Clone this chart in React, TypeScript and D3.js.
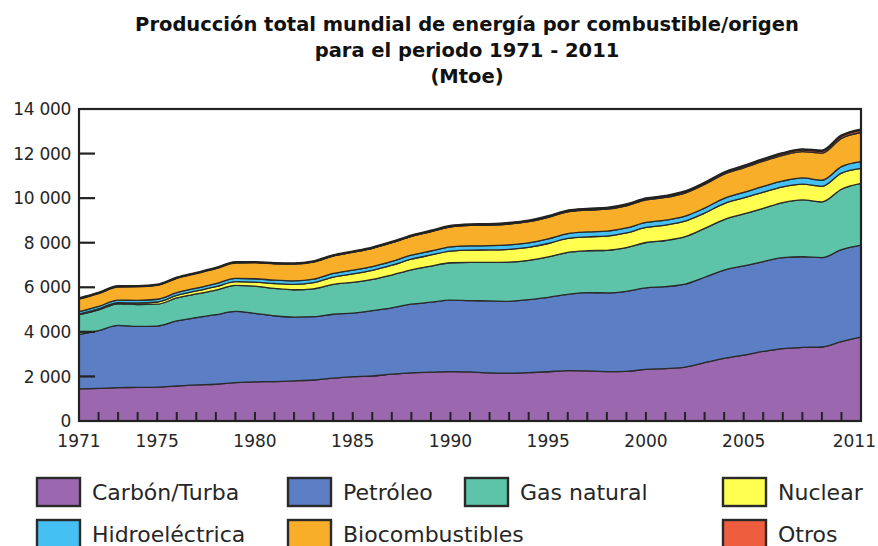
import React from 'react';
import * as d3 from 'd3';

// years 1971..2011
const years = [
  1971, 1972, 1973, 1974, 1975, 1976, 1977, 1978, 1979, 1980,
  1981, 1982, 1983, 1984, 1985, 1986, 1987, 1988, 1989, 1990,
  1991, 1992, 1993, 1994, 1995, 1996, 1997, 1998, 1999, 2000,
  2001, 2002, 2003, 2004, 2005, 2006, 2007, 2008, 2009, 2010, 2011,
];

const carbon = [
  1440, 1460, 1500, 1505, 1520, 1570, 1620, 1650, 1720, 1760,
  1770, 1800, 1840, 1920, 1990, 2020, 2100, 2160, 2190, 2220,
  2200, 2160, 2150, 2170, 2210, 2260, 2250, 2220, 2230, 2320,
  2350, 2420, 2620, 2810, 2960, 3120, 3250, 3300, 3320, 3560, 3760,
];
const petroleo = [
  2440, 2600, 2790, 2740, 2740, 2920, 3020, 3120, 3200, 3070,
  2950, 2860, 2840, 2870, 2850, 2930, 2980, 3080, 3140, 3200,
  3200, 3230, 3220, 3280, 3340, 3420, 3510, 3530, 3590, 3650,
  3680, 3720, 3830, 3960, 4000, 4030, 4080, 4070, 4010, 4130, 4130,
];
const gas = [
  890, 930, 970, 980, 980, 1030, 1060, 1100, 1170, 1220,
  1230, 1230, 1250, 1340, 1380, 1400, 1470, 1540, 1620, 1680,
  1720, 1730, 1760, 1760, 1810, 1890, 1880, 1910, 1960, 2040,
  2070, 2130, 2190, 2270, 2330, 2390, 2470, 2550, 2500, 2710, 2770,
];
const nuclear = [
  30, 40, 53, 70, 100, 115, 135, 155, 165, 186,
  220, 245, 275, 325, 380, 410, 440, 480, 500, 525,
  550, 555, 575, 585, 605, 625, 625, 640, 660, 675,
  690, 695, 690, 715, 720, 730, 710, 710, 700, 720, 675,
];
const hidro = [
  104, 108, 110, 120, 123, 125, 128, 137, 142, 148,
  150, 154, 160, 165, 168, 171, 174, 178, 178, 184,
  190, 190, 200, 202, 212, 215, 219, 220, 222, 225,
  222, 225, 226, 238, 250, 258, 260, 275, 280, 295, 300,
];
const bio = [
  585, 600, 610, 625, 640, 655, 670, 690, 710, 730,
  745, 760, 775, 790, 805, 820, 835, 850, 870, 900,
  915, 925, 935, 945, 960, 975, 980, 985, 995, 1010,
  1020, 1040, 1060, 1080, 1100, 1130, 1150, 1180, 1210, 1270, 1310,
];
const otros = [
  6, 6, 6, 7, 7, 8, 9, 10, 11, 12,
  14, 16, 18, 21, 24, 26, 28, 30, 33, 36,
  38, 40, 42, 44, 46, 48, 50, 52, 55, 58,
  60, 64, 68, 73, 78, 84, 90, 100, 108, 118, 127,
];

const seriesKeys = ['carbon', 'petroleo', 'gas', 'nuclear', 'hidro', 'bio', 'otros'];
const seriesLabels = ['Carbón/Turba', 'Petróleo', 'Gas natural', 'Nuclear', 'Hidroeléctrica', 'Biocombustibles', 'Otros'];
const seriesColors = ['#9b68b0', '#5b7ec5', '#5ec4a9', '#ffff50', '#45c0f2', '#f8ae28', '#ee5d3e'];

const yTicks = [0, 2000, 4000, 6000, 8000, 10000, 12000, 14000];
const xLabelYears = [1971, 1975, 1980, 1985, 1990, 1995, 2000, 2005, 2011];

const titleLines = [
  'Producción total mundial de energía por combustible/origen',
  'para el periodo 1971 - 2011',
  '(Mtoe)',
];

const fmt = d3.formatLocale({ decimal: ',', thousands: ' ', grouping: [3], currency: ['', ''] }).format(',d');

export default function App() {
  const width = 878;
  const height = 546;
  const margin = { top: 109, right: 17, bottom: 125, left: 79 };
  const innerW = width - margin.left - margin.right;
  const innerH = height - margin.top - margin.bottom;

  const table = years.map((year, i) => ({
    year,
    carbon: carbon[i],
    petroleo: petroleo[i],
    gas: gas[i],
    nuclear: nuclear[i],
    hidro: hidro[i],
    bio: bio[i],
    otros: otros[i],
  }));

  const x = d3.scaleLinear().domain([1971, 2011]).range([margin.left, margin.left + innerW]);
  const y = d3.scaleLinear().domain([0, 14000]).range([margin.top + innerH, margin.top]);

  const stacked = d3.stack().keys(seriesKeys)(table as any);

  const area = d3.area<any>()
    .x((d) => x(d.data.year))
    .y0((d) => y(d[0]))
    .y1((d) => y(d[1]))
    .curve(d3.curveMonotoneX);

  const topLine = d3.line<any>()
    .x((d) => x(d.data.year))
    .y((d) => y(d[1]))
    .curve(d3.curveMonotoneX);

  const font = '"DejaVu Sans", "Liberation Sans", sans-serif';
  const ink = '#262626';

  // legend layout: 4 columns, 2 rows
  const legendCols = [37, 288, 465, 723];
  const legendRows = [478, 520];
  const legendPos = [
    [0, 0], [1, 0], [2, 0], [3, 0],
    [0, 1], [1, 1], [3, 1],
  ];

  return (
    <svg width={width} height={height} style={{ position: 'absolute', left: 0, top: 0, background: '#fff' }}>
      <g fontFamily={font} fontWeight="bold" fontSize="19.5" fill="#111" textAnchor="middle">
        {titleLines.map((t, i) => (
          <text key={t} x={467} y={31 + i * 26}>{t}</text>
        ))}
      </g>

      {stacked.map((s, i) => (
        <path key={s.key} d={area(s) || ''} fill={seriesColors[i]} stroke="#2a2a2a" strokeWidth={1.3} strokeLinejoin="round" />
      ))}
      <path d={topLine(stacked[stacked.length - 1]) || ''} fill="none" stroke="#222" strokeWidth={2.6} strokeLinejoin="round" />

      {/* frame */}
      <rect x={margin.left} y={margin.top} width={innerW} height={innerH} fill="none" stroke="#222" strokeWidth={2.2} />

      {/* y ticks inside */}
      {yTicks.slice(1, -1).map((t) => (
        <line key={t} x1={margin.left} x2={margin.left + 16} y1={y(t)} y2={y(t)} stroke="#222" strokeWidth={2.2} />
      ))}
      {/* x yearly ticks inside */}
      {years.slice(1, -1).map((yr) => (
        <line key={yr} x1={x(yr)} x2={x(yr)} y1={margin.top + innerH} y2={margin.top + innerH - 9} stroke="#222" strokeWidth={2} />
      ))}

      <g fontFamily={font} fontSize="17" fill={ink}>
        {yTicks.map((t) => (
          <text key={t} x={margin.left - 8} y={y(t)} dy="0.36em" textAnchor="end" letterSpacing="-0.3">{fmt(t)}</text>
        ))}
        {xLabelYears.map((yr, i) => {
          const last = i === xLabelYears.length - 1;
          return (
            <text key={yr} x={last ? width - 2 : x(yr)} y={447} textAnchor={last ? 'end' : 'middle'}>{yr}</text>
          );
        })}
      </g>

      <g fontFamily={font} fontSize="22" fill={ink}>
        {seriesLabels.map((label, i) => {
          const [c, r] = legendPos[i];
          const lx = legendCols[c];
          const ly = legendRows[r];
          return (
            <g key={label}>
              <rect x={lx} y={ly} width={43} height={28} fill={seriesColors[i]} stroke="#2a2a2a" strokeWidth={2.4} />
              <text x={lx + 55} y={ly + 14} dy="0.36em">{label}</text>
            </g>
          );
        })}
      </g>
    </svg>
  );
}
